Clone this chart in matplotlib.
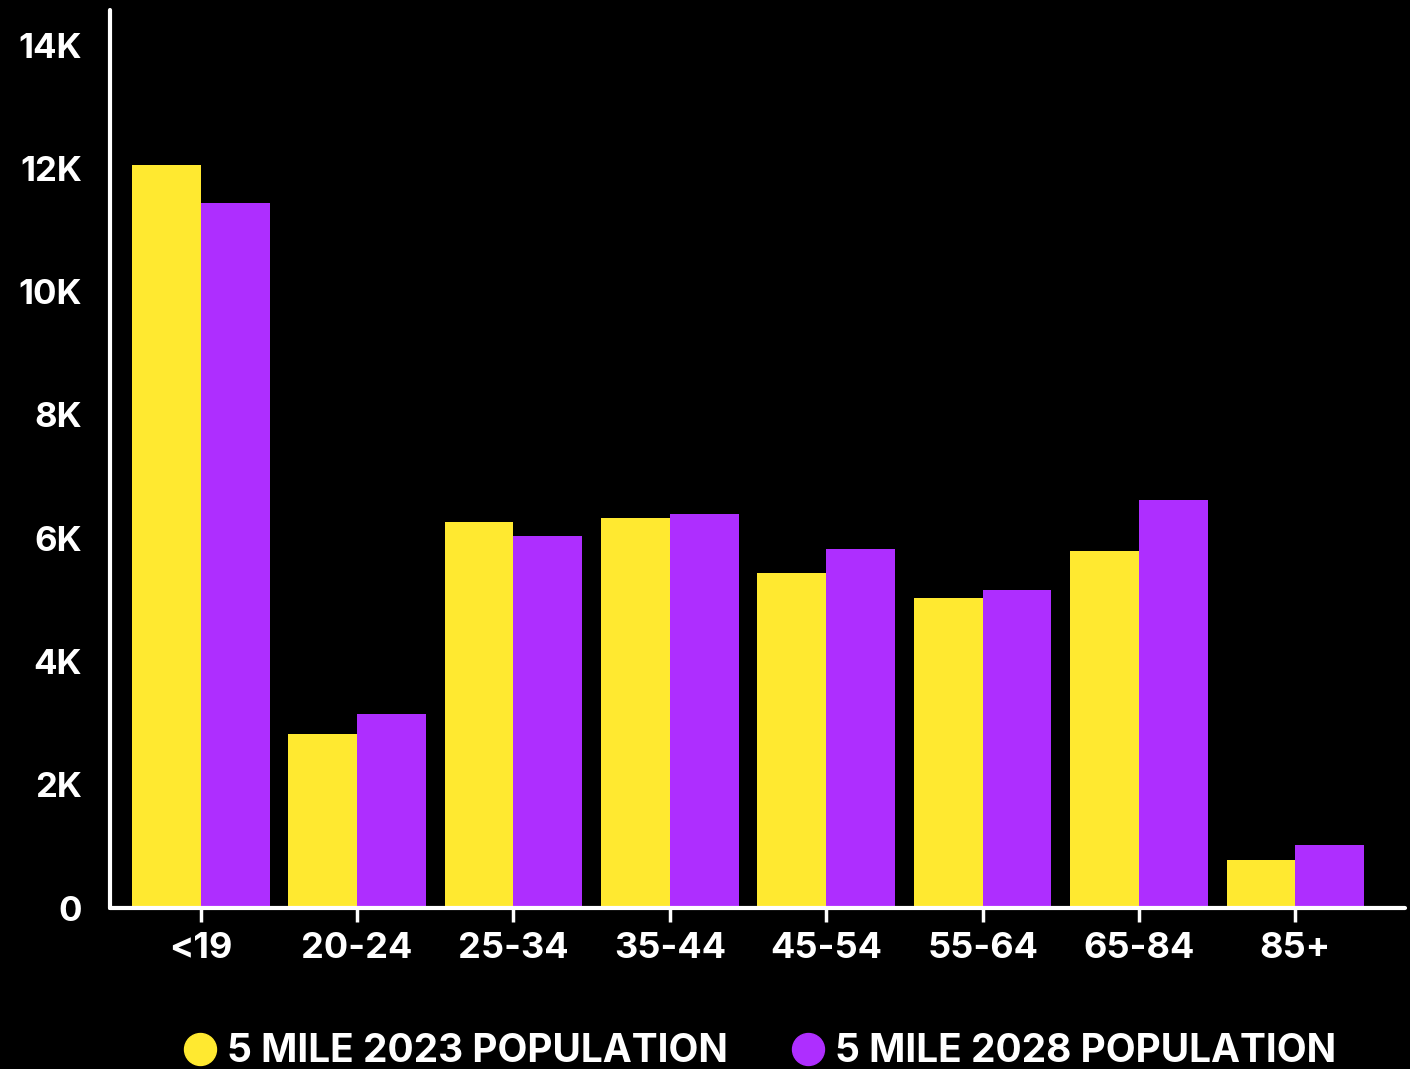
import numpy as np
import matplotlib
matplotlib.use("Agg")
import matplotlib.pyplot as plt
from matplotlib.lines import Line2D
from matplotlib.ticker import FuncFormatter

# age bands and population counts
age_groups = ['<19', '20-24', '25-34', '35-44', '45-54', '55-64', '65-84', '85+']
pop_2023 = [12050, 2820, 6260, 6330, 5430, 5030, 5790, 780]
pop_2028 = [11440, 3150, 6030, 6390, 5820, 5160, 6620, 1020]
series_names = ['5 MILE 2023 POPULATION', '5 MILE 2028 POPULATION']

yellow = '#FFE930'
purple = '#AE2EFF'

plt.rcParams['font.family'] = ['Inter', 'DejaVu Sans']
plt.rcParams['font.weight'] = 'bold'

fig = plt.figure(figsize=(14.1, 10.69), dpi=100, facecolor='black')
ax = fig.add_axes([0.078, 0.1506, 0.9184, 0.840])
ax.set_facecolor('black')

x = np.arange(len(age_groups))
w = 0.44
ax.bar(x - w / 2, pop_2023, width=w, color=yellow, label=series_names[0])
ax.bar(x + w / 2, pop_2028, width=w, color=purple, label=series_names[1])

ax.set_xlim(-0.58, 7.70)
ax.set_ylim(0, 14570)
ax.set_xticks(x)
ax.set_xticklabels(age_groups)
ax.set_yticks(np.arange(0, 14001, 2000))
ax.yaxis.set_major_formatter(FuncFormatter(lambda v, p: '0' if v == 0 else f'{int(v / 1000)}K'))

for side in ['top', 'right']:
    ax.spines[side].set_visible(False)
for side in ['left', 'bottom']:
    ax.spines[side].set_color('white')
    ax.spines[side].set_linewidth(3)
    ax.spines[side].set_capstyle('round')

ax.tick_params(axis='x', colors='white', labelsize=26, length=10, width=2.5, pad=7)
ax.tick_params(axis='y', colors='white', labelsize=25, length=0, pad=20)

handles = [Line2D([], [], marker='o', color='none', markerfacecolor=c, markeredgecolor=c,
                  markersize=23) for c in (yellow, purple)]
fig.legend(handles, series_names, loc='center', bbox_to_anchor=(0.537, 0.016),
           ncol=2, frameon=False, fontsize=28, labelcolor='white',
           handletextpad=0.15, columnspacing=1.5, handlelength=1.1)

fig.savefig('out.png', dpi=100, facecolor='black')
